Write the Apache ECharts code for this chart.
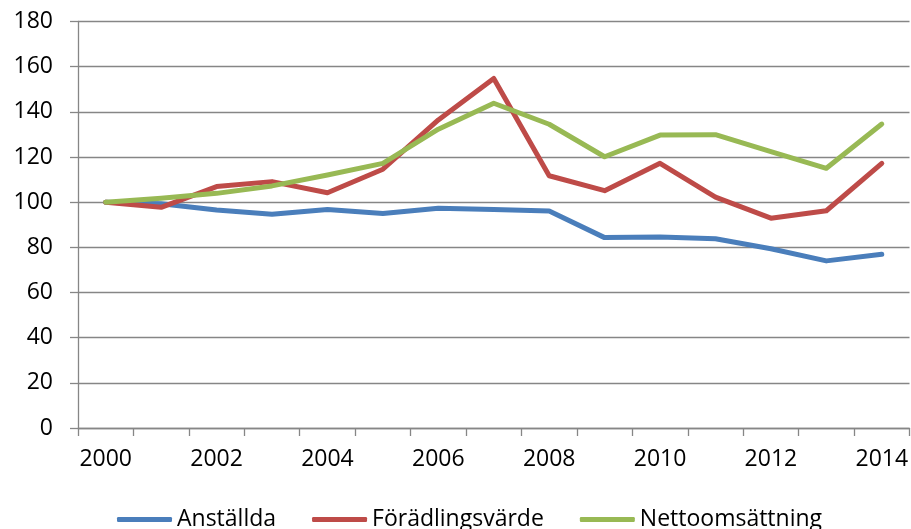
<!DOCTYPE html>
<html>
<head>
<meta charset="utf-8">
<script src="https://cdn.jsdelivr.net/npm/echarts@6/dist/echarts.min.js"></script>
<style>
html, body { margin: 0; padding: 0; background: #fff; }
#main { width: 911px; height: 529px; }
</style>
</head>
<body>
<div id="main"></div>
<script>
// årtal
var years = ['2000', '2001', '2002', '2003', '2004', '2005', '2006', '2007',
	'2008', '2009', '2010', '2011', '2012', '2013', '2014'];
// index 2000 = 100
var anstallda = [100, 99.3, 96.5, 94.6, 96.8, 95, 97.3, 96.8, 96.1, 84.3, 84.6, 83.8, 79.4, 74, 76.9];
var foradlingsvarde = [100, 97.7, 106.9, 109.1, 104.2, 114.6, 136.4, 154.8, 111.7, 105.1, 117.2, 102.2, 92.9, 96.2, 117.2];
var nettoomsattning = [100, 101.7, 103.9, 107.2, 112, 117.2, 132.3, 143.8, 134.5, 120.1, 129.7, 129.9, 122.4, 115, 134.6];
var seriesNames = ['Anställda', 'Förädlingsvärde', 'Nettoomsättning'];
var colors = ['#4A7EBB', '#BE4B48', '#98B954'];

var font = '"Open Sans", sans-serif';

function lineSeries(name, values, color) {
	return {
		name : name,
		type : 'line',
		data : values,
		symbol : 'none',
		lineStyle : {
			width : 5,
			color : color,
			cap : 'round',
			join : 'round'
		},
		itemStyle : {
			color : color
		}
	};
}

var myChart = echarts.init(document.getElementById('main'));
var option = {
	animation : false,
	grid : {
		left : 78,
		top : 21.5,
		width : 834,
		bottom : 101
	},
	legend : {
		data : seriesNames,
		left : 112,
		top : 503,
		icon : 'roundRect',
		itemWidth : 55,
		itemHeight : 5,
		itemGap : 36,
		textStyle : {
			fontFamily : font,
			fontSize : 23,
			color : '#000'
		}
	},
	xAxis : {
		type : 'category',
		data : years,
		boundaryGap : true,
		axisLine : {
			lineStyle : { color : '#868686', width : 1.3 }
		},
		axisTick : {
			show : true,
			interval : 0,
			alignWithLabel : false,
			length : 8,
			lineStyle : { color : '#868686', width : 1.3 }
		},
		axisLabel : {
			interval : 1,
			margin : 20,
			fontFamily : font,
			fontSize : 23,
			color : '#000'
		},
		splitLine : { show : false }
	},
	yAxis : {
		type : 'value',
		min : 0,
		max : 180,
		interval : 20,
		axisLine : {
			show : true,
			lineStyle : { color : '#868686', width : 1.3 }
		},
		axisTick : {
			show : true,
			length : 8,
			lineStyle : { color : '#868686', width : 1.3 }
		},
		axisLabel : {
			margin : 25,
			fontFamily : font,
			fontSize : 23,
			color : '#000'
		},
		splitLine : {
			lineStyle : { color : '#868686', width : 1.3 }
		}
	},
	series : [
		lineSeries(seriesNames[0], anstallda, colors[0]),
		lineSeries(seriesNames[1], foradlingsvarde, colors[1]),
		lineSeries(seriesNames[2], nettoomsattning, colors[2])
	]
};
myChart.setOption(option);
</script>
</body>
</html>
